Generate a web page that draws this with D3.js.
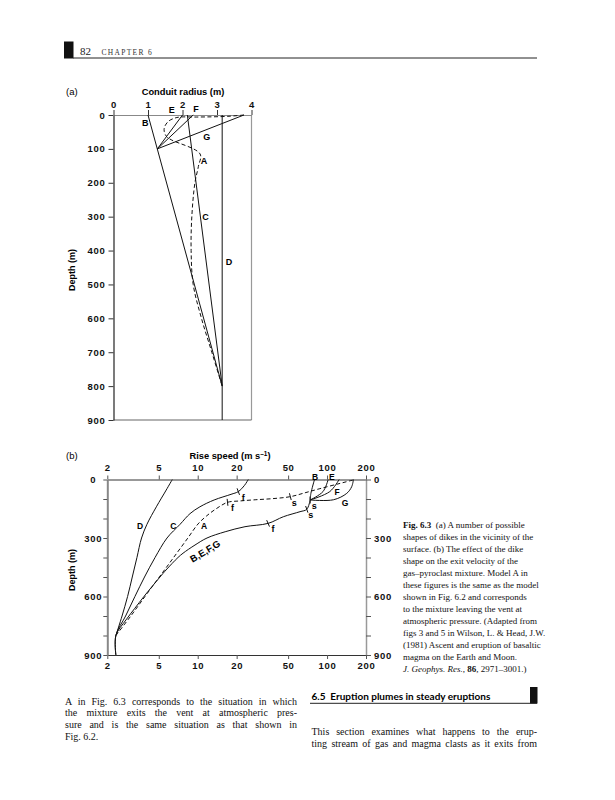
<!DOCTYPE html>
<html><head><meta charset="utf-8">
<script src="https://cdn.jsdelivr.net/npm/d3@7"></script>
<style>body{margin:0;background:#fff}svg{display:block}</style>
</head><body>
<svg id="c" width="615" height="800"></svg>
<script>
// ---------- DATA: panel (a) conduit radius (m) vs depth (m) ----------
const radiusTicks = [0, 1, 2, 3, 4];
const depthTicksA = [0, 100, 200, 300, 400, 500, 600, 700, 800, 900];
const dikeA_r = [3.78, 3.3, 2.4, 1.93, 1.78, 1.6, 1.48, 1.47, 1.54, 1.69, 2.51, 2.46, 2.36, 2.27, 2.25, 2.31, 2.55, 2.85, 3.15];
const dikeA_d = [0, 4, 6, 6, 9, 18, 35, 48, 64, 74, 115, 152, 200, 300, 400, 500, 600, 700, 800];
const dikeB_r = [1.0, 3.15];
const dikeB_d = [0, 800];
const dikeC_r = [2.14, 3.15];
const dikeC_d = [0, 800];
const dikeD_r = [3.15, 3.15];
const dikeD_d = [0, 900];
const dikeE_r = [2.0, 1.27];
const dikeE_d = [0, 100];
const dikeF_r = [2.31, 1.27];
const dikeF_d = [0, 100];
const dikeG_r = [3.78, 1.27];
const dikeG_d = [0, 100];
const labelsA = [["B", 0.92, 24], ["E", 1.69, -14], ["F", 2.39, -18], ["G", 2.7, 64], ["A", 2.62, 135], ["C", 2.67, 300], ["D", 3.35, 433]];

// ---------- DATA: panel (b) rise speed (m/s) vs depth (m) ----------
const speedTicks = [2, 5, 10, 20, 50, 100, 200];
const depthTicksB = [0, 100, 200, 300, 400, 500, 600, 700, 800, 900];
const depthLabelsB = [0, 300, 600, 900];
const riseA_v = [2.33, 3.04, 3.91, 5.05, 6.51, 8.39, 10.06, 11.7, 13.9, 17.0, 21.2, 27.8, 38.2, 52.0, 67.6, 86.8, 126, 156, 165];
const riseA_d = [800, 700, 600, 500, 400, 300, 228, 187, 150, 117, 110, 104, 98, 88, 68, 48, 20, 4, 0];
const riseBEFG_v = [2.33, 2.33, 2.79, 3.27, 3.84, 5.11, 5.69, 7.04, 7.70, 9.53, 11.8, 16.3, 23.2, 35.0, 45.9, 61.8, 69.7, 74];
const riseBEFG_d = [900, 800, 720, 660, 600, 500, 464, 400, 378, 336, 300, 268, 242, 225, 191, 165, 153, 105];
const riseB_v = [74, 75, 80];
const riseB_d = [105, 71, 0];
const riseE_v = [74, 93, 102];
const riseE_d = [105, 62, 0];
const riseF_v = [74, 105, 124];
const riseF_d = [105, 62, 0];
const riseG_v = [74, 112, 142, 155, 160];
const riseG_d = [105, 104, 71, 37, 0];
const riseC_v = [2.33, 2.33, 2.77, 3.27, 3.88, 4.68, 5.79, 7.30, 8.72, 10.4, 13.4, 18.1, 20.6, 23.0, 24.6];
const riseC_d = [900, 800, 700, 600, 500, 400, 300, 230, 175, 140, 105, 76, 62, 30, 0];
const riseD_v = [2.33, 2.60, 2.87, 3.12, 3.39, 3.68, 4.05, 4.79, 5.71, 6.36];
const riseD_d = [800, 700, 600, 500, 400, 300, 230, 140, 54, 0];
// marks: [curve, speed, depth, letter]
const marksB = [["C", 20.6, 62, "f"], ["A", 17, 117, "f"], ["A", 52, 88, "s"], ["G", 74, 105, "s"], ["BEFG", 69.7, 153, "s"], ["BEFG", 35, 225, "f"]];
const labelsB = [["D", 3.58, 238], ["C", 6.47, 238], ["A", 11.2, 238], ["B", 80.8, -12], ["E", 109, -12], ["F", 119.5, 64], ["G", 137.7, 120]];
const labelBEFG = ["B,E,F,G", 11.4, 367];

// ---------- TEXT ----------
const captionLines = [
  [["Fig. 6.3", "b"], ["  (a) A number of possible", ""]],
  [["shapes of dikes in the vicinity of the", ""]],
  [["surface. (b) The effect of the dike", ""]],
  [["shape on the exit velocity of the", ""]],
  [["gas–pyroclast mixture. Model A in", ""]],
  [["these figures is the same as the model", ""]],
  [["shown in Fig. 6.2 and corresponds", ""]],
  [["to the mixture leaving the vent at", ""]],
  [["atmospheric pressure. (Adapted from", ""]],
  [["figs 3 and 5 in Wilson, L. & Head, J.W.", ""]],
  [["(1981) Ascent and eruption of basaltic", ""]],
  [["magma on the Earth and Moon.", ""]],
  [["J. Geophys. Res.", "i"], [", ", ""], ["86", "b"], [", 2971–3001.)", ""]]
];
const bodyLeft = ["A in Fig. 6.3 corresponds to the situation in which", "the mixture exits the vent at atmospheric pres-", "sure and is the same situation as that shown in", "Fig. 6.2."];
const bodyRight = ["This section examines what happens to the erup-", "ting stream of gas and magma clasts as it exits from"];
const headingRight = "6.5  Eruption plumes in steady eruptions";

// ---------- DRAW ----------
const svg = d3.select("#c");
const SANS = "'Liberation Sans', Arial, sans-serif";
const SERIF = "'Liberation Serif', 'Times New Roman', serif";
const zip = (a, b) => a.map((v, i) => [v, b[i]]);

// page header
svg.append("rect").attr("x", 64).attr("y", 41.5).attr("width", 9.5).attr("height", 17).attr("fill", "#111");
svg.append("line").attr("x1", 73).attr("x2", 537).attr("y1", 58).attr("y2", 58).attr("stroke", "#222").attr("stroke-width", 1);
svg.append("text").attr("x", 80).attr("y", 55).attr("font-family", SERIF).attr("font-size", 11).attr("fill", "#222").text("82");
svg.append("text").attr("x", 101.5).attr("y", 55).attr("font-family", SERIF).attr("font-size", 7.5).attr("letter-spacing", 1.3).attr("fill", "#333").text("CHAPTER 6");

// ---- panel (a)
const xA = d3.scaleLinear().domain([0, 4]).range([113.5, 251.5]);
const yA = d3.scaleLinear().domain([0, 900]).range([115, 420]);
const gA = svg.append("g");
function styleAxis(g, color) {
  g.select(".domain").attr("stroke", color);
  g.selectAll(".tick line").attr("stroke", "#333");
  g.selectAll(".tick text").attr("font-family", SANS).attr("font-weight", "bold").attr("font-size", 9.5).attr("letter-spacing", 0.7).attr("fill", "#111");
}
gA.append("line").attr("x1", xA(4)).attr("x2", xA(4)).attr("y1", yA(0)).attr("y2", yA(900)).attr("stroke", "#999").attr("stroke-width", 1.2);
gA.append("line").attr("x1", xA(0)).attr("x2", xA(4)).attr("y1", yA(900)).attr("y2", yA(900)).attr("stroke", "#666").attr("stroke-width", 1.2);
const axTopA = gA.append("g").attr("transform", `translate(0,${yA(0)})`)
  .call(d3.axisTop(xA).tickValues(radiusTicks).tickFormat(d3.format("d")).tickSize(5).tickSizeOuter(0).tickPadding(2));
styleAxis(axTopA, "#888");
const axLeftA = gA.append("g").attr("transform", `translate(${xA(0)},0)`)
  .call(d3.axisLeft(yA).tickValues(depthTicksA).tickFormat(d3.format("d")).tickSize(5).tickSizeOuter(0).tickPadding(3));
styleAxis(axLeftA, "#333");
axLeftA.select(".domain").attr("stroke-width", 1.3);

const lineA = d3.line().x(p => xA(p[0])).y(p => yA(p[1]));
const curveLineA = d3.line().x(p => xA(p[0])).y(p => yA(p[1])).curve(d3.curveCatmullRom.alpha(0.5));
[[dikeB_r, dikeB_d], [dikeC_r, dikeC_d], [dikeD_r, dikeD_d], [dikeE_r, dikeE_d], [dikeF_r, dikeF_d], [dikeG_r, dikeG_d]].forEach(([r, d]) => {
  gA.append("path").attr("d", lineA(zip(r, d))).attr("fill", "none").attr("stroke", "#111").attr("stroke-width", 1);
});
gA.append("path").attr("d", curveLineA(zip(dikeA_r, dikeA_d))).attr("fill", "none").attr("stroke", "#111").attr("stroke-width", 1).attr("stroke-dasharray", "4,2.5");
labelsA.forEach(([t, r, d]) => {
  gA.append("text").attr("x", xA(r)).attr("y", yA(d)).attr("text-anchor", "middle").attr("dominant-baseline", "central")
    .attr("font-family", SANS).attr("font-weight", "bold").attr("font-size", 9).text(t);
});
gA.append("text").attr("x", 183).attr("y", 95).attr("text-anchor", "middle").attr("font-family", SANS).attr("font-weight", "bold").attr("font-size", 9.3).text("Conduit radius (m)");
gA.append("text").attr("x", 66).attr("y", 95).attr("font-family", SANS).attr("font-size", 9.5).text("(a)");
gA.append("text").attr("transform", "translate(75,270) rotate(-90)").attr("text-anchor", "middle").attr("font-family", SANS).attr("font-weight", "bold").attr("font-size", 9).text("Depth (m)");

// ---- panel (b)
const xB = d3.scaleLog().domain([2, 200]).range([107.3, 366]);
const yB = d3.scaleLinear().domain([0, 900]).range([479.5, 655]);
const gB = svg.append("g");
const fmtDepth = d => depthLabelsB.includes(d) ? d : "";
const axTopB = gB.append("g").attr("transform", `translate(0,${yB(0)})`)
  .call(d3.axisTop(xB).tickValues(speedTicks).tickFormat(d3.format("d")).tickSize(4).tickSizeOuter(0).tickPadding(5));
styleAxis(axTopB, "#333");
const axBotB = gB.append("g").attr("transform", `translate(0,${yB(900)})`)
  .call(d3.axisBottom(xB).tickValues(speedTicks).tickFormat(d3.format("d")).tickSize(4).tickSizeOuter(0).tickPadding(3));
styleAxis(axBotB, "#333");
const axLeftB = gB.append("g").attr("transform", `translate(${xB(2)},0)`)
  .call(d3.axisLeft(yB).tickValues(depthTicksB).tickFormat(fmtDepth).tickSize(4).tickSizeOuter(0).tickPadding(2));
styleAxis(axLeftB, "#888");
axLeftB.selectAll(".tick text").attr("text-anchor", "middle").attr("x", -14);
axLeftB.select(".domain").attr("stroke-width", 2);
const axRightB = gB.append("g").attr("transform", `translate(${xB(200)},0)`)
  .call(d3.axisRight(yB).tickValues(depthTicksB).tickFormat(fmtDepth).tickSize(5).tickSizeOuter(0).tickPadding(3));
styleAxis(axRightB, "#999");
axRightB.select(".domain").attr("stroke-width", 1.5);
[axTopB, axBotB, axLeftB, axRightB].forEach(a => a.selectAll(".tick line").attr("stroke", "#555"));

const curveB = d3.line().x(p => xB(p[0])).y(p => yB(p[1])).curve(d3.curveCatmullRom.alpha(0.5));
const curvesB = {
  A: zip(riseA_v, riseA_d), BEFG: zip(riseBEFG_v, riseBEFG_d), B: zip(riseB_v, riseB_d), E: zip(riseE_v, riseE_d),
  F: zip(riseF_v, riseF_d), G: zip(riseG_v, riseG_d), C: zip(riseC_v, riseC_d), D: zip(riseD_v, riseD_d)
};
Object.entries(curvesB).forEach(([k, pts]) => {
  const p = gB.append("path").attr("d", curveB(pts)).attr("fill", "none").attr("stroke", "#111").attr("stroke-width", 1);
  if (k === "A") p.attr("stroke-dasharray", "4,2.5");
});
const markOffset = {f: [5, 6], s: [4, 6]};
marksB.forEach(([c, v, d, t]) => {
  const pts = curvesB[c].map(p => [xB(p[0]), yB(p[1])]);
  const mx = xB(v), my = yB(d);
  let best = null, bd = 1e9;
  for (let i = 0; i < pts.length - 1; i++) {
    const cx = (pts[i][0] + pts[i + 1][0]) / 2, cy = (pts[i][1] + pts[i + 1][1]) / 2;
    const dd = (cx - mx) ** 2 + (cy - my) ** 2;
    if (dd < bd) { bd = dd; best = [pts[i + 1][0] - pts[i][0], pts[i + 1][1] - pts[i][1]]; }
  }
  const L = Math.hypot(best[0], best[1]) || 1;
  const nx = -best[1] / L * 3.5, ny = best[0] / L * 3.5;
  gB.append("line").attr("x1", mx - nx).attr("y1", my - ny).attr("x2", mx + nx).attr("y2", my + ny).attr("stroke", "#111").attr("stroke-width", 1);
  gB.append("text").attr("x", mx + markOffset[t][0]).attr("y", my + markOffset[t][1]).attr("dominant-baseline", "central").attr("text-anchor", "middle")
    .attr("font-family", SANS).attr("font-weight", "bold").attr("font-size", 9).text(t);
});
labelsB.forEach(([t, v, d]) => {
  gB.append("text").attr("x", xB(v)).attr("y", yB(d)).attr("text-anchor", "middle").attr("dominant-baseline", "central")
    .attr("font-family", SANS).attr("font-weight", "bold").attr("font-size", 8.5).text(t);
});
gB.append("text").attr("transform", `translate(${xB(labelBEFG[1])},${yB(labelBEFG[2])}) rotate(-31)`).attr("text-anchor", "middle").attr("dominant-baseline", "central")
  .attr("font-family", SANS).attr("font-weight", "bold").attr("font-size", 9.5).text(labelBEFG[0]);
gB.append("text").attr("x", 230).attr("y", 459).attr("text-anchor", "middle").attr("font-family", SANS).attr("font-weight", "bold").attr("font-size", 9.3)
  .html("Rise speed (m s<tspan dy='-3.5' font-size='6.5'>–1</tspan><tspan dy='3.5'>)</tspan>");
gB.append("text").attr("x", 66).attr("y", 459).attr("font-family", SANS).attr("font-size", 9.5).text("(b)");
gB.append("text").attr("transform", "translate(75,570) rotate(-90)").attr("text-anchor", "middle").attr("font-family", SANS).attr("font-weight", "bold").attr("font-size", 9).text("Depth (m)");

// ---- caption
const cap = svg.append("g");
captionLines.forEach((parts, i) => {
  const t = cap.append("text").attr("x", 403).attr("y", 528 + i * 12).attr("font-family", SERIF).attr("font-size", 9).attr("fill", "#111").attr("xml:space", "preserve");
  parts.forEach(([s, st]) => {
    const ts = t.append("tspan").text(s);
    if (st === "b") ts.attr("font-weight", "bold");
    if (st === "i") ts.attr("font-style", "italic");
  });
});

// ---- body text (justified)
function justified(lines, x0, x1, y0, lh, size) {
  lines.forEach((s, i) => {
    const t = svg.append("text").attr("x", x0).attr("y", y0 + i * lh).attr("font-family", SERIF).attr("font-size", size).attr("fill", "#111").text(s);
    if (i < lines.length - 1 || lines.length === 2) {
      const w = t.node().getComputedTextLength();
      const n = (s.match(/ /g) || []).length;
      if (n > 0 && w < x1 - x0) t.attr("word-spacing", (x1 - x0 - w) / n);
    }
  });
}
justified(bodyLeft, 65, 297, 704.5, 11.7, 10);
justified(bodyRight, 311.5, 537, 735, 11.7, 10);
svg.append("text").attr("x", 311.5).attr("y", 699.5).attr("font-family", "Lato, 'Liberation Sans', sans-serif").attr("font-weight", "bold").attr("font-size", 10).attr("xml:space", "preserve").text(headingRight);
svg.append("rect").attr("x", 530).attr("y", 687).attr("width", 7.5).attr("height", 16.5).attr("fill", "#111");
svg.append("line").attr("x1", 310).attr("x2", 537).attr("y1", 703.3).attr("y2", 703.3).attr("stroke", "#222").attr("stroke-width", 1);
</script>
</body></html>
